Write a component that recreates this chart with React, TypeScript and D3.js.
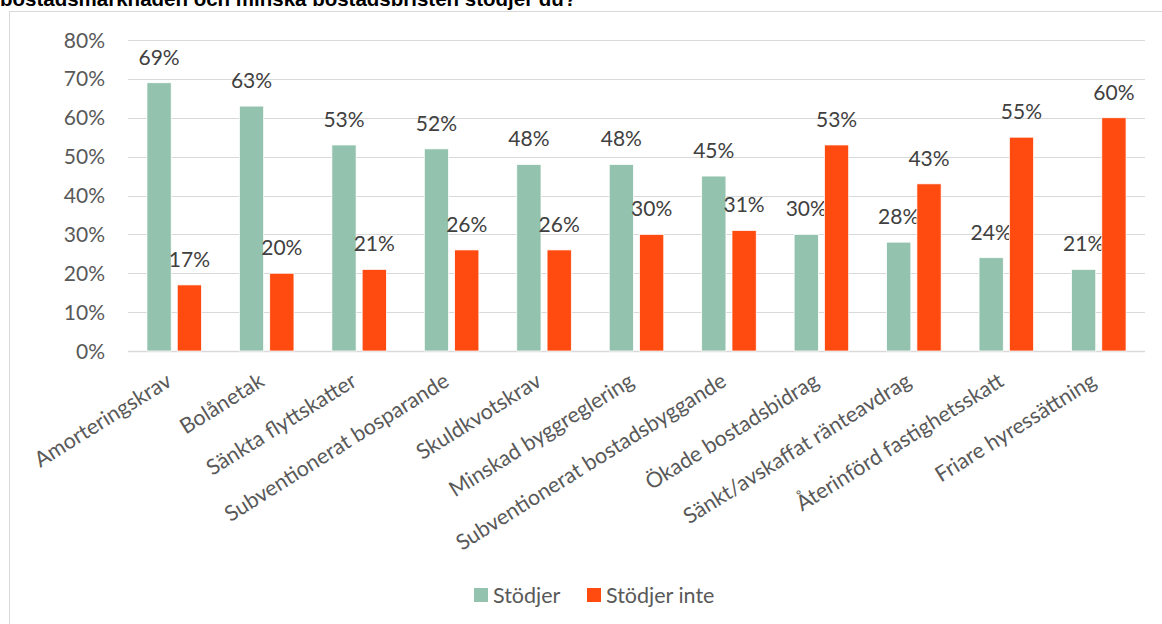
import { useEffect, useRef } from "react";
import * as d3 from "d3";

const categories = [
  "Amorteringskrav",
  "Bolånetak",
  "Sänkta flyttskatter",
  "Subventionerat bosparande",
  "Skuldkvotskrav",
  "Minskad byggreglering",
  "Subventionerat bostadsbyggande",
  "Ökade bostadsbidrag",
  "Sänkt/avskaffat ränteavdrag",
  "Återinförd fastighetsskatt",
  "Friare hyressättning",
];
const stodjer = [69, 63, 53, 52, 48, 48, 45, 30, 28, 24, 21];
const stodjerInte = [17, 20, 21, 26, 26, 30, 31, 53, 43, 55, 60];
const seriesNames = ["Stödjer", "Stödjer inte"];
const yTicks = [0, 10, 20, 30, 40, 50, 60, 70, 80];
const title = "bostadsmarknaden och minska bostadsbristen stödjer du?";

const colors = ["#93c3ae", "#ff4b10"];
const textColor = "#595959";
const FONT = "Lato, 'Open Sans', sans-serif";

export default function App() {
  const svgRef = useRef<SVGSVGElement>(null);

  useEffect(() => {
    if (!svgRef.current) return;
    const svg = d3.select(svgRef.current);
    svg.selectAll("*").remove();

    const W = 1162;
    const H = 624;
    const left = 128;
    const right = 1145;
    const top = 40;
    const bottom = 351;

    svg.attr("width", W).attr("height", H);

    // frame
    svg.append("rect")
      .attr("x", 9.5).attr("y", 11.5)
      .attr("width", W + 10).attr("height", H)
      .attr("fill", "#fff")
      .attr("stroke", "#d9d9d9");

    svg.append("text")
      .attr("x", 0).attr("y", 5.5)
      .style("font-family", "Arial, 'Liberation Sans', sans-serif")
      .style("font-weight", "bold")
      .style("font-size", "20.5px")
      .attr("fill", "#000")
      .text(title);

    const x = d3.scaleBand<string>()
      .domain(categories)
      .range([left, right])
      .paddingInner(0.41)
      .paddingOuter(0.205);

    const x1 = d3.scaleBand<number>()
      .domain([0, 1])
      .range([0, x.bandwidth()])
      .paddingInner(0.2);

    const y = d3.scaleLinear().domain([0, 80]).range([bottom, top]);

    const g = svg.append("g");

    g.selectAll(".grid")
      .data(yTicks)
      .enter()
      .append("line")
      .attr("x1", left).attr("x2", right)
      .attr("y1", d => Math.round(y(d)) + 0.5)
      .attr("y2", d => Math.round(y(d)) + 0.5)
      .attr("stroke", "#d9d9d9")
      .attr("stroke-width", d => (d === 0 ? 1.5 : 1));

    g.selectAll(".ytick")
      .data(yTicks)
      .enter()
      .append("text")
      .attr("x", 105)
      .attr("y", d => y(d))
      .attr("dy", "0.36em")
      .attr("text-anchor", "end")
      .style("font-family", FONT)
      .style("font-size", "21px")
      .attr("fill", textColor)
      .text(d => `${d}%`);

    const series = [stodjer, stodjerInte];
    series.forEach((vals, si) => {
      const sg = g.append("g");
      sg.selectAll("rect")
        .data(vals)
        .enter()
        .append("rect")
        .attr("x", (_, i) => (x(categories[i]) || 0) + (x1(si) || 0))
        .attr("y", d => y(d))
        .attr("width", x1.bandwidth())
        .attr("height", d => bottom - y(d))
        .attr("fill", colors[si])
        .attr("stroke", "#fff")
        .attr("stroke-width", 0.75);

      sg.selectAll("text")
        .data(vals)
        .enter()
        .append("text")
        .attr("x", (_, i) => (x(categories[i]) || 0) + (x1(si) || 0) + x1.bandwidth() / 2)
        .attr("y", d => y(d) - 18)
        .attr("text-anchor", "middle")
        .style("font-family", FONT)
        .style("font-size", "21px")
        .attr("fill", "#404040")
        .text(d => `${d}%`);
    });

    // category labels
    g.selectAll(".xlab")
      .data(categories)
      .enter()
      .append("text")
      .attr("transform", d => {
        const cx = (x(d) || 0) + x.bandwidth() / 2 - 9;
        return `translate(${cx},${bottom + 21}) rotate(-32)`;
      })
      .attr("text-anchor", "end")
      .attr("dy", "0.7em")
      .style("font-family", FONT)
      .style("font-size", "21.5px")
      .attr("fill", textColor)
      .text(d => d);

    // legend
    const legendItems = [
      { name: seriesNames[0], color: colors[0], x: 474 },
      { name: seriesNames[1], color: colors[1], x: 587 },
    ];
    const lg = svg.append("g");
    legendItems.forEach(item => {
      lg.append("rect")
        .attr("x", item.x).attr("y", 588)
        .attr("width", 14).attr("height", 14)
        .attr("fill", item.color);
      lg.append("text")
        .attr("x", item.x + 19).attr("y", 595)
        .attr("dy", "0.36em")
        .style("font-family", FONT)
        .style("font-size", "21.5px")
        .attr("fill", textColor)
        .text(item.name);
    });
  }, []);

  return (
    <div style={{ position: "absolute", left: 0, top: 0, width: 1162, height: 624, overflow: "hidden", background: "#fff" }}>
      <svg ref={svgRef} style={{ display: "block" }} />
    </div>
  );
}
